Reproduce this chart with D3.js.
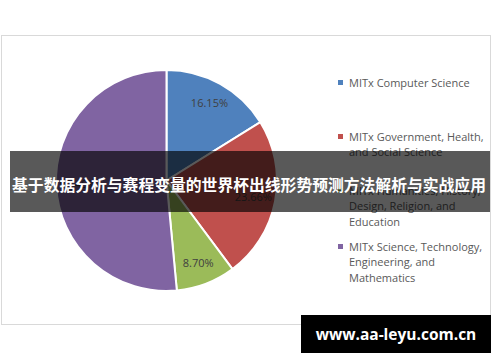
<!DOCTYPE html>
<html><head><meta charset="utf-8">
<script src="https://cdn.jsdelivr.net/npm/d3@7/dist/d3.min.js"></script>
<style>body{margin:0;background:#fff}svg{display:block}</style>
</head><body>
<svg id="c" width="500" height="362"></svg>
<script>
const categories = [
  ["MITx Computer Science"],
  ["MITx Government, Health,", "and Social Science"],
  ["MITx Humanities, History,", "Design, Religion, and", "Education"],
  ["MITx Science, Technology,", "Engineering, and", "Mathematics"]
];
const values = [16.15, 23.66, 8.70, 51.49];
const colors = ["#4f81bd", "#c0504d", "#9bbb59", "#8064a2"];
const legendY = [83, 137, 191, 247];
const title = "基于数据分析与赛程变量的世界杯出线形势预测方法解析与实战应用";
const watermark = "www.aa-leyu.com.cn";

const svg = d3.select("#c");
const font = "'Open Sans', 'Liberation Sans', sans-serif";

svg.append("rect").attr("x", 1.5).attr("y", 35.5).attr("width", 489).attr("height", 289)
  .attr("fill", "#fff").attr("stroke", "#d9d9d9").attr("stroke-width", 1);

const cx = 166.5, cy = 180.5, r = 110.5;
const pie = d3.pie().sort(null).value(d => d)(values);
const arc = d3.arc().innerRadius(0).outerRadius(r);
const labelArc = d3.arc().innerRadius(r * 0.8).outerRadius(r * 0.8);
const g = svg.append("g").attr("transform", `translate(${cx},${cy})`);
g.selectAll("path").data(pie).join("path")
  .attr("d", arc).attr("fill", (d, i) => colors[i])
  .attr("stroke", "#fff").attr("stroke-width", 2).attr("stroke-linejoin", "round");
g.selectAll("text").data(pie).join("text")
  .attr("transform", d => `translate(${labelArc.centroid(d)})`)
  .attr("text-anchor", "middle").attr("dy", "0.35em")
  .attr("font-family", font).attr("font-size", 11).attr("fill", "#404040")
  .text(d => d.data.toFixed(2) + "%");

const lg = svg.append("g");
categories.forEach((lines, i) => {
  lg.append("rect").attr("x", 338).attr("y", legendY[i] - 3).attr("width", 5).attr("height", 5)
    .attr("fill", colors[i]);
  const t = lg.append("text").attr("x", 349).attr("y", legendY[i]).attr("dy", "0.35em")
    .attr("font-family", font).attr("font-size", 11).attr("fill", "#595959");
  lines.forEach((l, j) => t.append("tspan").attr("x", 349).attr("dy", j === 0 ? "0.35em" : 15.5).text(l));
});

svg.append("rect").attr("x", 10).attr("y", 151).attr("width", 480).attr("height", 61)
  .attr("fill", "#000").attr("fill-opacity", 0.65);
svg.append("text").attr("x", 249).attr("y", 185).attr("dy", "0.35em").attr("text-anchor", "middle")
  .attr("font-family", "'Noto Sans CJK SC', sans-serif").attr("font-weight", "bold")
  .attr("font-size", 15.8).attr("fill", "#fff").text(title);

svg.append("rect").attr("x", 301).attr("y", 315).attr("width", 190).attr("height", 38).attr("fill", "#000");
svg.append("text").attr("x", 396).attr("y", 335).attr("dy", "0.35em").attr("text-anchor", "middle")
  .attr("font-family", "'Open Sans', 'DejaVu Sans', sans-serif").attr("font-weight", "bold")
  .attr("font-size", 15.5).attr("fill", "#fff").text(watermark);
</script>
</body></html>
